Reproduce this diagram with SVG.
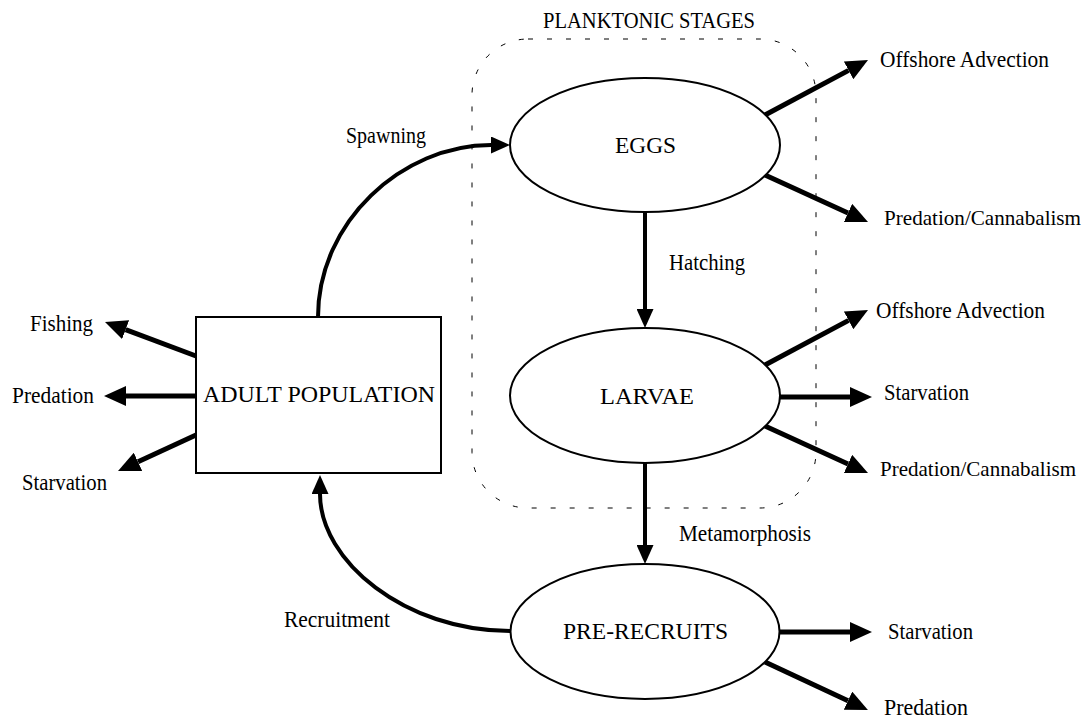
<svg xmlns="http://www.w3.org/2000/svg" width="1090" height="718" viewBox="0 0 1090 718">
  <style>
    text { font-family: "Liberation Serif", "Times New Roman", serif; font-size: 23px; fill: #000; }
    text.edge { font-size: 22px; }
    .node { fill: #fff; stroke: #000; stroke-width: 2; }
    .stage { fill: none; stroke: #000; stroke-width: 1; stroke-dasharray: 5 14; }
    .flow { fill: none; stroke: #000; stroke-width: 4; }
    .loss { fill: none; stroke: #000; stroke-width: 5; }
  </style>
  <defs>
    <marker id="headFlow" markerUnits="userSpaceOnUse" markerWidth="19" markerHeight="17" viewBox="0 0 19 17" refX="0" refY="8.5" orient="auto">
      <path d="M0,0 L19,8.5 L0,17 z" fill="#000"/>
    </marker>
    <marker id="headLoss" markerUnits="userSpaceOnUse" markerWidth="22" markerHeight="20" viewBox="0 0 22 20" refX="0" refY="10" orient="auto">
      <path d="M0,0 L22,10 L0,20 z" fill="#000"/>
    </marker>
  </defs>

  <!-- planktonic stages enclosure -->
  <g id="planktonic-stages">
    <rect class="stage" x="472" y="39" width="344" height="469" rx="56" ry="56"/>
    <text x="543" y="28" textLength="212" lengthAdjust="spacingAndGlyphs">PLANKTONIC STAGES</text>
  </g>

  <!-- connectors -->
  <g id="connectors">
    <!-- life-cycle flows -->
    <path class="flow" d="M318,317 C318,222 402,145 491,145" marker-end="url(#headFlow)"/>
    <path class="flow" d="M645,212 L645,309" marker-end="url(#headFlow)"/>
    <path class="flow" d="M645,463 L645,545" marker-end="url(#headFlow)"/>
    <path class="flow" d="M510,631 C405,631 320,561 320,494" marker-end="url(#headFlow)"/>

    <!-- adult losses -->
    <path class="loss" d="M196,356 L125.6,329.7" marker-end="url(#headLoss)"/>
    <path class="loss" d="M196,396 L126,396" marker-end="url(#headLoss)"/>
    <path class="loss" d="M196,435 L138,461.8" marker-end="url(#headLoss)"/>

    <!-- egg losses -->
    <path class="loss" d="M765,115 L848.6,70.4" marker-end="url(#headLoss)"/>
    <path class="loss" d="M765,175 L848,212.9" marker-end="url(#headLoss)"/>

    <!-- larval losses -->
    <path class="loss" d="M765,365 L848.6,320.4" marker-end="url(#headLoss)"/>
    <path class="loss" d="M779,397 L850,397" marker-end="url(#headLoss)"/>
    <path class="loss" d="M765,426 L848,463.9" marker-end="url(#headLoss)"/>

    <!-- pre-recruit losses -->
    <path class="loss" d="M779,632 L850,632" marker-end="url(#headLoss)"/>
    <path class="loss" d="M765,662 L848,700.7" marker-end="url(#headLoss)"/>

    <!-- connector labels -->
    <text x="346" y="143" textLength="80" lengthAdjust="spacingAndGlyphs">Spawning</text>
    <text x="669" y="270" textLength="76" lengthAdjust="spacingAndGlyphs">Hatching</text>
    <text x="679" y="541" textLength="132" lengthAdjust="spacingAndGlyphs">Metamorphosis</text>
    <text x="284" y="627" textLength="106" lengthAdjust="spacingAndGlyphs">Recruitment</text>
  </g>

  <!-- nodes -->
  <g id="adult-population">
    <rect class="node" x="196" y="317" width="245" height="156"/>
    <text x="203" y="402" textLength="232" lengthAdjust="spacingAndGlyphs">ADULT POPULATION</text>
  </g>
  <g id="eggs">
    <ellipse class="node" cx="645" cy="145" rx="135" ry="67"/>
    <text x="615" y="153" textLength="61" lengthAdjust="spacingAndGlyphs">EGGS</text>
  </g>
  <g id="larvae">
    <ellipse class="node" cx="645" cy="395.5" rx="135" ry="67.5"/>
    <text x="600" y="404" textLength="94" lengthAdjust="spacingAndGlyphs">LARVAE</text>
  </g>
  <g id="pre-recruits">
    <ellipse class="node" cx="645" cy="631.5" rx="134.5" ry="67.5"/>
    <text x="563" y="639" textLength="165" lengthAdjust="spacingAndGlyphs">PRE-RECRUITS</text>
  </g>

  <!-- mortality / loss endpoints -->
  <g id="adult-fishing"><text x="30" y="331" textLength="63" lengthAdjust="spacingAndGlyphs">Fishing</text></g>
  <g id="adult-predation"><text x="12" y="403" textLength="82" lengthAdjust="spacingAndGlyphs">Predation</text></g>
  <g id="adult-starvation"><text x="22" y="490" textLength="85" lengthAdjust="spacingAndGlyphs">Starvation</text></g>

  <g id="eggs-advection"><text x="880" y="67" textLength="169" lengthAdjust="spacingAndGlyphs">Offshore Advection</text></g>
  <g id="eggs-predation"><text class="edge" x="884" y="225" textLength="197" lengthAdjust="spacingAndGlyphs">Predation/Cannabalism</text></g>

  <g id="larvae-advection"><text x="876" y="318" textLength="169" lengthAdjust="spacingAndGlyphs">Offshore Advection</text></g>
  <g id="larvae-starvation"><text x="884" y="400" textLength="85" lengthAdjust="spacingAndGlyphs">Starvation</text></g>
  <g id="larvae-predation"><text class="edge" x="880" y="476" textLength="196" lengthAdjust="spacingAndGlyphs">Predation/Cannabalism</text></g>

  <g id="prerecruits-starvation"><text x="888" y="639" textLength="85" lengthAdjust="spacingAndGlyphs">Starvation</text></g>
  <g id="prerecruits-predation"><text x="884" y="715" textLength="84" lengthAdjust="spacingAndGlyphs">Predation</text></g>
</svg>
